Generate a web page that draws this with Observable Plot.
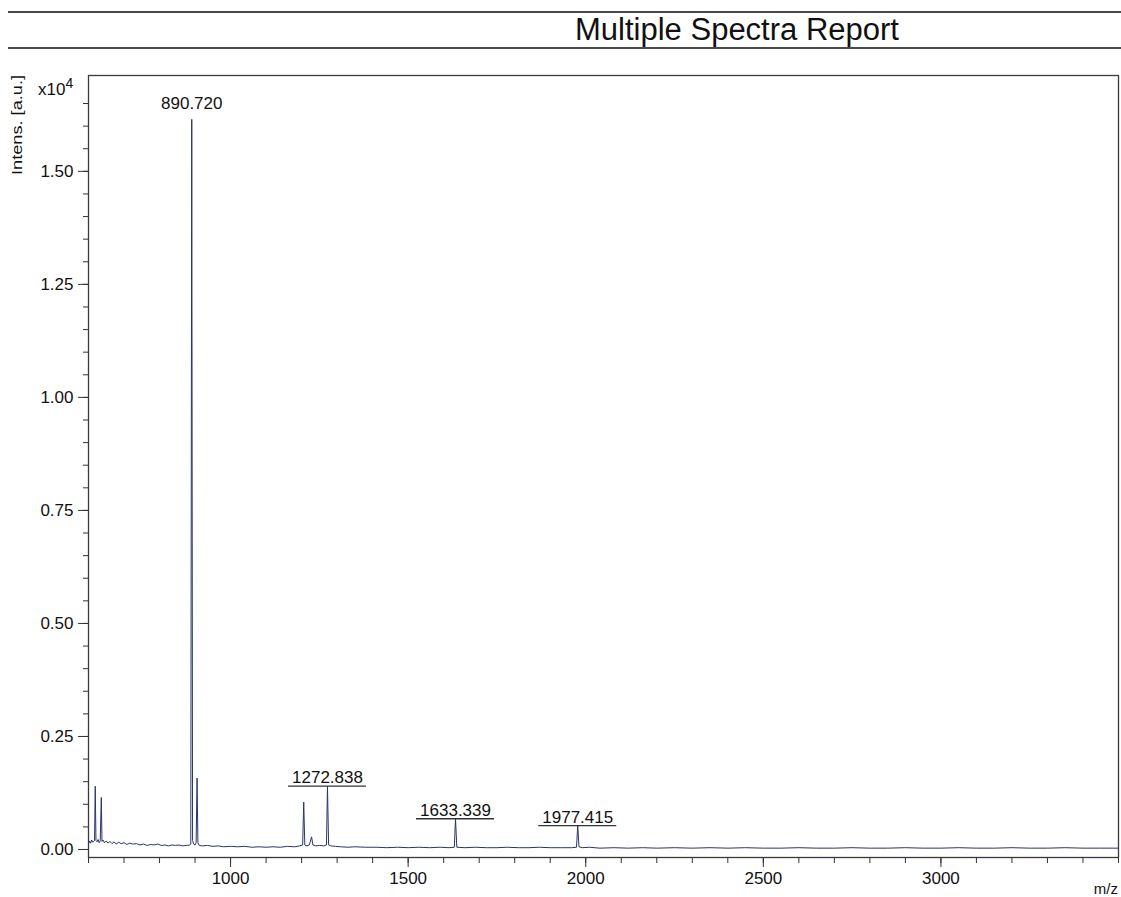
<!DOCTYPE html>
<html>
<head>
<meta charset="utf-8">
<script src="https://cdn.jsdelivr.net/npm/d3@7"></script>
<script src="https://cdn.jsdelivr.net/npm/@observablehq/plot@0.6"></script>
<style>
  body { margin: 0; background: #fff; font-family: "Liberation Sans", Arial, sans-serif; }
  #header { position: relative; width: 1121px; height: 60px; }
  .hline { position: absolute; left: 8px; right: 0; height: 2px; background: #4a4a4a; }
  #title { position: absolute; left: 737px; top: 14px; transform: translateX(-50%); font-size: 31px; line-height: 31px; color: #111; white-space: nowrap; }
  #chart svg { display: block; }
</style>
</head>
<body>
<div id="header">
  <div class="hline" style="top:11px"></div>
  <div class="hline" style="top:47px"></div>
  <div id="title">Multiple Spectra Report</div>
</div>
<div id="chart"></div>
<script>
// Spectrum (m/z, intensity in units of 10^4 a.u.)
const mz = [600, 603, 606, 609, 612, 615, 617, 619, 621, 624, 627, 630, 633, 636, 638, 641, 645, 650, 655, 660,
  666, 672, 678, 685, 692, 700, 708, 716, 725, 735, 745, 755, 765, 775, 785, 795, 805, 815, 825, 835,
  845, 855, 865, 875, 885, 888, 890.72, 893, 896, 900, 903, 905.7, 908, 912, 920, 935, 950, 965, 980, 1000,
  1020, 1040, 1060, 1080, 1100, 1120, 1140, 1160, 1180, 1195, 1203, 1206, 1209, 1215, 1222, 1228, 1232, 1240, 1250, 1262,
  1270, 1272.838, 1276, 1282, 1295, 1310, 1330, 1350, 1380, 1410, 1440, 1470, 1500, 1530, 1560, 1590, 1615, 1630, 1633.339, 1637,
  1660, 1690, 1720, 1750, 1780, 1810, 1840, 1870, 1900, 1930, 1960, 1974, 1977.415, 1981, 1990, 2010, 2040, 2080, 2120, 2160,
  2200, 2250, 2300, 2350, 2400, 2450, 2500, 2550, 2600, 2650, 2700, 2750, 2800, 2850, 2900, 2950, 3000, 3050, 3100, 3150,
  3200, 3250, 3300, 3350, 3400, 3450, 3500];
const intensity = [0.012, 0.019, 0.014, 0.021, 0.016, 0.018, 0.020, 0.140, 0.020, 0.017, 0.022, 0.015, 0.019, 0.115, 0.018, 0.021, 0.015, 0.019, 0.014, 0.018,
  0.013, 0.017, 0.012, 0.016, 0.013, 0.015, 0.011, 0.014, 0.012, 0.013, 0.010, 0.012, 0.009, 0.011, 0.010, 0.012, 0.009, 0.010, 0.008, 0.010,
  0.009, 0.010, 0.008, 0.009, 0.010, 0.012, 1.615, 0.020, 0.012, 0.010, 0.015, 0.158, 0.015, 0.009, 0.008, 0.009, 0.007, 0.008, 0.006, 0.007,
  0.006, 0.007, 0.005, 0.006, 0.005, 0.006, 0.005, 0.007, 0.006, 0.008, 0.010, 0.105, 0.010, 0.008, 0.010, 0.028, 0.010, 0.008, 0.009, 0.008,
  0.010, 0.140, 0.010, 0.008, 0.007, 0.006, 0.005, 0.006, 0.005, 0.005, 0.004, 0.005, 0.004, 0.005, 0.004, 0.005, 0.004, 0.005, 0.068, 0.005,
  0.004, 0.005, 0.004, 0.004, 0.005, 0.004, 0.004, 0.005, 0.004, 0.004, 0.004, 0.005, 0.053, 0.006, 0.004, 0.005, 0.003, 0.004, 0.003, 0.004,
  0.003, 0.004, 0.003, 0.004, 0.003, 0.004, 0.003, 0.003, 0.004, 0.003, 0.003, 0.004, 0.003, 0.003, 0.004, 0.003, 0.003, 0.004, 0.003, 0.003,
  0.004, 0.003, 0.003, 0.004, 0.003, 0.003, 0.003];

// Peak annotations
const peakLabels = ["890.720", "1272.838", "1633.339", "1977.415"];
const peakMz = [890.72, 1272.838, 1633.339, 1977.415];
const peakTop = [1.615, 0.140, 0.068, 0.053];
const peakUnderlined = [false, true, true, true];

// Axis ticks
const xMajorTicks = [1000, 1500, 2000, 2500, 3000];
const xMinorTicks = d3.range(600, 3501, 100);
const yMajorTicks = [0, 0.25, 0.5, 0.75, 1.0, 1.25, 1.5];
const yMinorTicks = d3.range(0, 34).map(i => i * 0.05);

const W = 1121, H = 837, mL = 88, mR = 3, mT = 15, mB = 40;
const xDomain = [600, 3500];
const yDomain = [-0.0177, 1.712];

const spectrum = mz.map((m, i) => ({mz: m, y: intensity[i]}));
const peaks = peakLabels.map((l, i) => ({label: l, mz: peakMz[i], top: peakTop[i], ul: peakUnderlined[i]}));
const unitsPerPx = (xDomain[1] - xDomain[0]) / (W - mL - mR);
const halfUl = 39 * unitsPerPx;

const font = "'Liberation Sans', Arial, sans-serif";

const chart = Plot.plot({
  width: W, height: H,
  marginLeft: mL, marginRight: mR, marginTop: mT, marginBottom: mB,
  style: {fontFamily: font, fontSize: "17px", color: "#111", background: "#fff"},
  x: {domain: xDomain},
  y: {domain: yDomain},
  marks: [
    Plot.line(spectrum, {x: "mz", y: "y", stroke: "#2b3566", strokeWidth: 1}),
    Plot.ruleY(peaks.filter(d => d.ul), {y: "top", x1: d => d.mz - halfUl, x2: d => d.mz + halfUl, stroke: "#333", strokeWidth: 1.3}),
    Plot.text(peaks.filter(d => d.ul), {x: "mz", y: "top", text: "label", lineAnchor: "bottom", dy: -3, fontSize: 17, fill: "#111"}),
    Plot.text(peaks.filter(d => !d.ul), {x: "mz", y: "top", text: "label", lineAnchor: "bottom", dy: -10, fontSize: 17, fill: "#111"}),
    Plot.frame({stroke: "#3a3a3a", strokeWidth: 1.3}),
    Plot.axisX({ticks: xMinorTicks, tickSize: 6, tickFormat: () => "", label: null, stroke: "#333"}),
    Plot.axisX({ticks: xMajorTicks, tickSize: 10, tickPadding: 4, tickFormat: d => String(d), label: null, fontSize: 17, stroke: "#333"}),
    Plot.axisY({ticks: yMinorTicks, tickSize: 5, tickFormat: () => "", label: null, stroke: "#333"}),
    Plot.axisY({ticks: yMajorTicks, tickSize: 10, tickPadding: 5, tickFormat: d3.format(".2f"), label: null, fontSize: 17, stroke: "#333"})
  ]
});

const svg = d3.select(chart);
svg.append("text")
  .attr("transform", "translate(22,65) rotate(-90)")
  .attr("text-anchor", "middle")
  .attr("font-family", font)
  .attr("font-size", 14)
  .attr("textLength", 100)
  .attr("lengthAdjust", "spacingAndGlyphs")
  .attr("fill", "#111")
  .text("Intens. [a.u.]");
const xt = svg.append("text")
  .attr("x", 38).attr("y", 35)
  .attr("text-anchor", "start")
  .attr("font-family", font)
  .attr("font-size", 17)
  .attr("fill", "#111");
xt.append("tspan").text("x10");
xt.append("tspan").attr("dy", -7).attr("font-size", 14).text("4");
svg.append("text")
  .attr("x", 1118).attr("y", 834)
  .attr("text-anchor", "end")
  .attr("font-family", font)
  .attr("font-size", 15)
  .attr("fill", "#111")
  .text("m/z");

document.getElementById("chart").appendChild(chart);
</script>
</body>
</html>
